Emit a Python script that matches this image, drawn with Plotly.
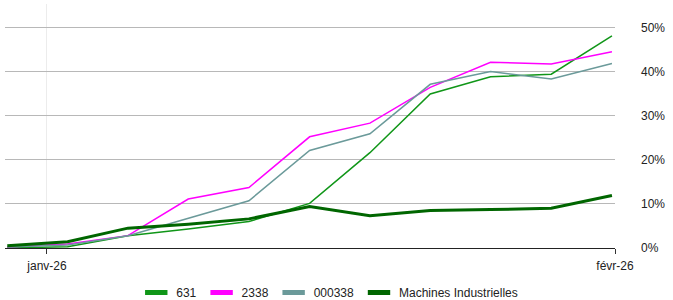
import plotly.graph_objects as go

dates = ["2025-12-29 20:00", "2026-01-02 03:00", "2026-01-05 10:00", "2026-01-08 17:00",
         "2026-01-12 00:30", "2026-01-15 08:00", "2026-01-18 15:00", "2026-01-21 22:00",
         "2026-01-25 05:00", "2026-01-28 12:30", "2026-01-31 20:00"]

s631 = [0.0, 0.3, 2.8, 4.3, 6.0, 10.1, 21.6, 34.9, 38.8, 39.4, 48.1]
s2338 = [0.2, 0.9, 2.8, 11.1, 13.7, 25.2, 28.3, 36.4, 42.1, 41.7, 44.5]
s000338 = [0.2, 0.7, 2.8, 6.8, 10.7, 22.1, 25.9, 37.1, 40.0, 38.3, 41.8]
machines = [0.5, 1.4, 4.5, 5.4, 6.6, 9.4, 7.3, 8.5, 8.7, 9.0, 11.9]

names = ["631", "2338", "000338", "Machines Industrielles"]
colors = ["#109618", "#ff00ff", "#6b9a9a", "#006600"]
widths = [1.5, 1.5, 1.5, 3]
series = [s631, s2338, s000338, machines]

ytick_vals = [0, 10, 20, 30, 40, 50]
ytick_text = ["0%", "10%", "20%", "30%", "40%", "50%"]
xtick_vals = ["2026-01-01", "2026-02-01"]
xtick_text = ["janv-26", "févr-26"]

fig = go.Figure()
for n, c, w, s in zip(names, colors, widths, series):
    fig.add_trace(go.Scatter(x=dates, y=s, name=n, mode="lines", showlegend=False,
                             line=dict(color=c, width=w)))
# legend entries (short thick bars like the original)
for n, c in zip(names, colors):
    fig.add_trace(go.Scatter(x=[None], y=[None], name=n, mode="markers",
                             marker=dict(symbol="line-ew", size=16,
                                         line=dict(color=c, width=5))))

fig.update_layout(
    width=673, height=300,
    margin=dict(l=5, r=58, t=4, b=52, autoexpand=False),
    paper_bgcolor="white", plot_bgcolor="white",
    font=dict(family="Liberation Sans, Arial, sans-serif", size=12, color="#222"),
    showlegend=True,
    legend=dict(orientation="h", xref="container", x=0.49, xanchor="center",
                yref="container", y=0.025, yanchor="middle",
                font=dict(size=12, color="#222"), tracegroupgap=0),
    xaxis=dict(type="date", range=["2025-12-29 17:00", "2026-02-01 00:00"],
               tickvals=xtick_vals, ticktext=xtick_text, automargin=False,
               showgrid=True, gridcolor="#ececec", gridwidth=1,
               ticks="outside", ticklen=5, tickcolor="#333", ticklabelstandoff=2,
               showline=True, linecolor="#222", linewidth=1,
               zeroline=False, fixedrange=True),
    yaxis=dict(side="right", range=[0, 55.3], tickvals=ytick_vals, ticktext=ytick_text,
               automargin=False, fixedrange=True,
               showgrid=True, gridcolor="#b8b8b8", gridwidth=1,
               zeroline=False, showline=False, ticks="", ticklabelstandoff=25),
)

fig.write_html("out.html", config={"displayModeBar": False},
               post_script="document.body.style.margin='0';document.body.style.overflow='hidden';")
